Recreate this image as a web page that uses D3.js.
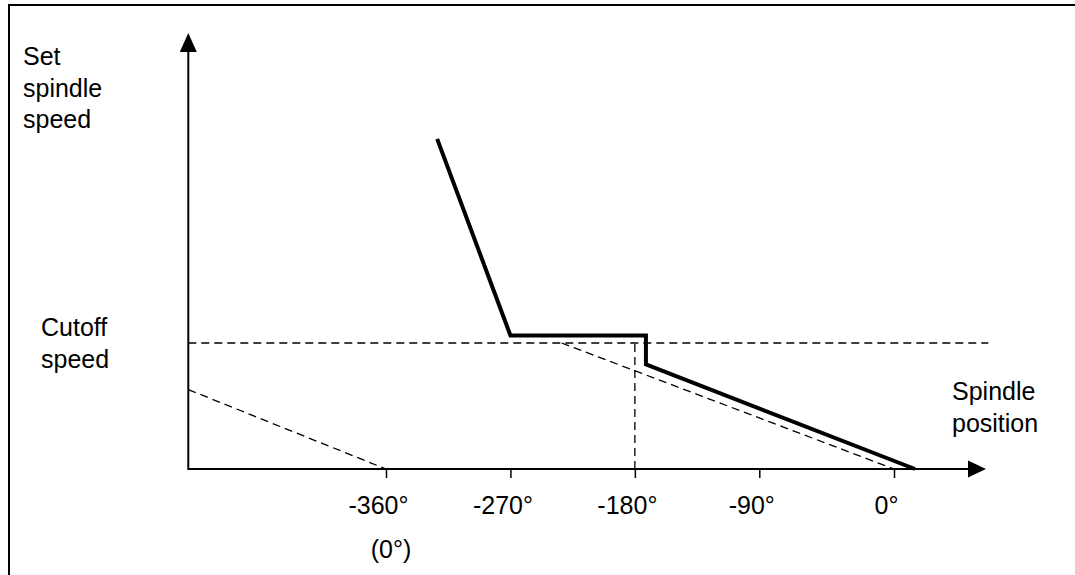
<!DOCTYPE html>
<html>
<head>
<meta charset="utf-8">
<script src="https://cdn.jsdelivr.net/npm/d3@7"></script>
<style>
  body { margin: 0; background: #fff; }
  text { font-family: "Liberation Sans", Arial, sans-serif; fill: #000; }
</style>
</head>
<body>
<div id="chart"></div>
<script>
// spindle position in degrees, set speed in % of cutoff speed
var profile = [[-323, 262], [-270, 106], [-172, 106], [-172, 83], [14, 0]];
var cutoffLine = [[-503, 100], [63, 100]];
var rampNow = [[-233, 100], [0, 0]];
var rampPrev = [[-503, 63], [-360, 0]];
var markerLine = [[-180, 0], [-180, 100]];
var tickDeg = [-360, -270, -180, -90, 0];
var tickLabels = ["-360°", "-270°", "-180°", "-90°", "0°"];

var W = 1075, H = 575;
var fs = "25px";
var svg = d3.select("#chart").append("svg")
    .attr("width", W).attr("height", H);

// drawing is not perfectly even between -90° and 0°
var x = d3.scaleLinear().domain([-360, -90, 0]).range([386, 759.3, 894]);
var y = d3.scaleLinear().domain([0, 100]).range([469, 343]);

var x0 = x(-503), xEnd = 986;
var yTop = 33;

// frame
svg.append("rect")
    .attr("x", 9).attr("y", 5)
    .attr("width", W + 20).attr("height", H + 20)
    .attr("fill", "none").attr("stroke", "#000").attr("stroke-width", 2);

var line = d3.line()
    .x(function(d) { return x(d[0]); })
    .y(function(d) { return y(d[1]); });

// dashed helper lines
[cutoffLine, rampNow, rampPrev, markerLine].forEach(function(l) {
  svg.append("path")
    .datum(l)
    .attr("fill", "none")
    .attr("stroke", "#000")
    .attr("stroke-width", 1.3)
    .attr("stroke-dasharray", "8,5")
    .attr("d", line);
});

// x axis
var xAxis = svg.append("g")
    .attr("transform", "translate(0," + y(0) + ")")
    .call(d3.axisBottom(x)
        .tickValues(tickDeg)
        .tickSize(9)
        .tickPadding(18)
        .tickFormat(function(d, i) { return tickLabels[i]; }));
xAxis.select(".domain").remove();
xAxis.selectAll(".tick line").attr("stroke-width", 1.5);
xAxis.selectAll(".tick text")
    .attr("dx", -8)
    .style("font-size", fs)
    .style("font-family", "'Liberation Sans', Arial, sans-serif");

svg.append("text")
    .attr("x", x(-360) + 5).attr("y", 558)
    .attr("text-anchor", "middle")
    .style("font-size", fs)
    .text("(0°)");

// axis lines with arrows
svg.append("line")
    .attr("x1", x0).attr("y1", y(0))
    .attr("x2", xEnd - 16).attr("y2", y(0))
    .attr("stroke", "#000").attr("stroke-width", 2);
svg.append("path")
    .attr("d", "M" + xEnd + "," + y(0) + "L" + (xEnd - 18) + "," + (y(0) - 8.5) + "L" + (xEnd - 18) + "," + (y(0) + 8.5) + "Z")
    .attr("fill", "#000");

svg.append("line")
    .attr("x1", x0).attr("y1", y(0) + 1)
    .attr("x2", x0).attr("y2", yTop + 16)
    .attr("stroke", "#000").attr("stroke-width", 2);
svg.append("path")
    .attr("d", "M" + x0 + "," + yTop + "L" + (x0 - 8.5) + "," + (yTop + 19) + "L" + (x0 + 8.5) + "," + (yTop + 19) + "Z")
    .attr("fill", "#000");

// speed profile
svg.append("path")
    .datum(profile)
    .attr("fill", "none")
    .attr("stroke", "#000")
    .attr("stroke-width", 4)
    .attr("stroke-linejoin", "miter")
    .attr("d", line);

// labels
function block(lines, lx, ly) {
  var t = svg.append("text")
      .attr("x", lx).attr("y", ly)
      .style("font-size", fs);
  lines.forEach(function(s, i) {
    t.append("tspan").attr("x", lx).attr("dy", i ? 31.5 : 0).text(s);
  });
}
block(["Set", "spindle", "speed"], 23, 65);
block(["Cutoff", "speed"], 41, 336);
block(["Spindle", "position"], 952, 400);
</script>
</body>
</html>
